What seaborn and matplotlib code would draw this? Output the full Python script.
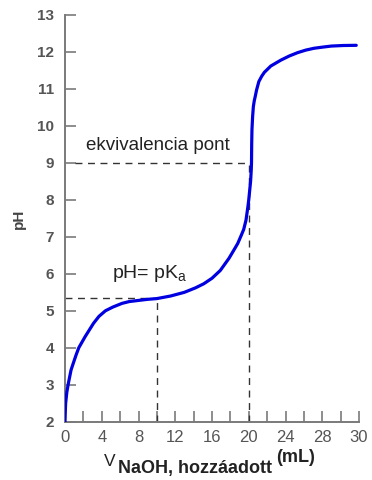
import matplotlib
matplotlib.use("Agg")
import matplotlib.pyplot as plt
import seaborn as sns
import pandas as pd

# ---- data ----
volume_ml = [0, 0.03, 0.07, 0.2, 0.36, 0.66, 0.9, 1.2, 1.5, 2.19, 3.1, 3.7, 4.4, 5.2,
             6.2, 7.0, 8.0, 9.0, 10.0, 11.5, 13.0, 14.2, 15.1, 16.0, 16.9, 17.85,
             18.4, 18.8, 19.2, 19.45, 19.7, 19.9, 20.0, 20.1, 20.2, 20.27, 20.3,
             20.32, 20.35, 20.42, 20.5, 20.6, 20.7, 20.85, 21.1, 21.4, 21.7, 22.4,
             23.5, 24.4, 25.3, 26.2, 27.1, 28.0, 29.0, 30.3, 31.7]
ph_values = [2.0, 2.25, 2.5, 2.8, 3.03, 3.40, 3.58, 3.8, 4.0, 4.30, 4.66, 4.85, 5.0, 5.1,
             5.2, 5.25, 5.28, 5.31, 5.33, 5.4, 5.5, 5.62, 5.73, 5.88, 6.09, 6.42,
             6.65, 6.82, 7.05, 7.2, 7.45, 7.8, 8.0, 8.25, 8.5, 8.8, 9.0,
             9.5, 9.9, 10.25, 10.52, 10.68, 10.79, 10.97, 11.2, 11.34, 11.45, 11.62,
             11.78, 11.89, 11.98, 12.05, 12.10, 12.13, 12.16, 12.175, 12.18]

pka_point = (10, 5.34)
equiv_point = (20, 9.0)

y_ticks = list(range(2, 14))
x_major_ticks = [0, 4, 8, 12, 16, 20, 24, 28, 32]
x_tick_labels = ["0", "4", "8", "12", "16", "20", "24", "28", "30"]
x_minor_ticks = [2, 6, 10, 14, 18, 22, 26, 30]

df = pd.DataFrame({"V": volume_ml, "pH": ph_values})

sns.set_theme(style="white")
plt.rcParams["font.family"] = ["Liberation Sans", "DejaVu Sans"]
plt.rcParams["mathtext.fontset"] = "custom"
plt.rcParams["mathtext.rm"] = "Liberation Sans"
plt.rcParams["mathtext.it"] = "Liberation Sans"
plt.rcParams["mathtext.bf"] = "Liberation Sans:bold"

fig = plt.figure(figsize=(3.72, 4.80), dpi=100)
ax = fig.add_axes([65 / 372, (480 - 421.7) / 480, (359 - 65) / 372, (421.7 - 15) / 480])

dash_kw = dict(color="#333333", lw=1.0, linestyle=(0, (5, 4)), zorder=1)
ax.plot([0, pka_point[0]], [pka_point[1], pka_point[1]], **dash_kw)
ax.plot([pka_point[0], pka_point[0]], [2, pka_point[1]], **dash_kw)
ax.plot([1.1, equiv_point[0]], [equiv_point[1], equiv_point[1]], **dash_kw)
ax.plot([equiv_point[0], equiv_point[0]], [2, equiv_point[1]], **dash_kw)

sns.lineplot(data=df, x="V", y="pH", sort=False, estimator=None,
             color="#0000e0", lw=2.3, ax=ax, zorder=3)
ax.lines[-1].set_solid_joinstyle("round")
ax.lines[-1].set_solid_capstyle("round")

ax.set_xlim(0, 32)
ax.set_ylim(2, 13)

for s in ["top", "right"]:
    ax.spines[s].set_visible(False)
for s in ["left", "bottom"]:
    ax.spines[s].set_color("#7a7a7a")
    ax.spines[s].set_linewidth(1.4)

ax.set_yticks(y_ticks)
ax.set_yticklabels([str(t) for t in y_ticks], fontsize=11, fontweight="bold", color="#555555")
ax.set_xticks(x_major_ticks)
ax.set_xticklabels(x_tick_labels, fontsize=12, color="#555555")
ax.set_xticks(x_minor_ticks, minor=True)
ax.tick_params(axis="y", which="both", left=True, direction="in", length=8, width=1.2,
               color="#7a7a7a", pad=8)
ax.tick_params(axis="x", which="both", bottom=True, direction="in", length=8, width=1.2,
               color="#7a7a7a", pad=6)

ax.set_xlabel("")
ax.set_ylabel("pH", fontsize=11, fontweight="bold", color="#444444")
ax.yaxis.set_label_coords((26 - 65) / 294, 0.5)

ax.text(2.3, 9.35, "ekvivalencia pont", fontsize=13.5, color="#222222")
ax.text(5.1, 5.88, r"pH= pK$_{\mathregular{a}}$", fontsize=14, color="#222222")

# x-axis label composed of pieces
fig.text(104 / 372, 1 - 466 / 480, "V", fontsize=12.5, color="#222222", ha="left", va="baseline")
fig.text(117.5 / 372, 1 - 473.5 / 480, "NaOH, hozzáadott", fontsize=13, fontweight="bold",
         color="#222222", ha="left", va="baseline")
fig.text(276 / 372, 1 - 462.5 / 480, "(mL)", fontsize=13, fontweight="bold",
         color="#222222", ha="left", va="baseline")

fig.savefig("out.png", dpi=100, facecolor="white")
